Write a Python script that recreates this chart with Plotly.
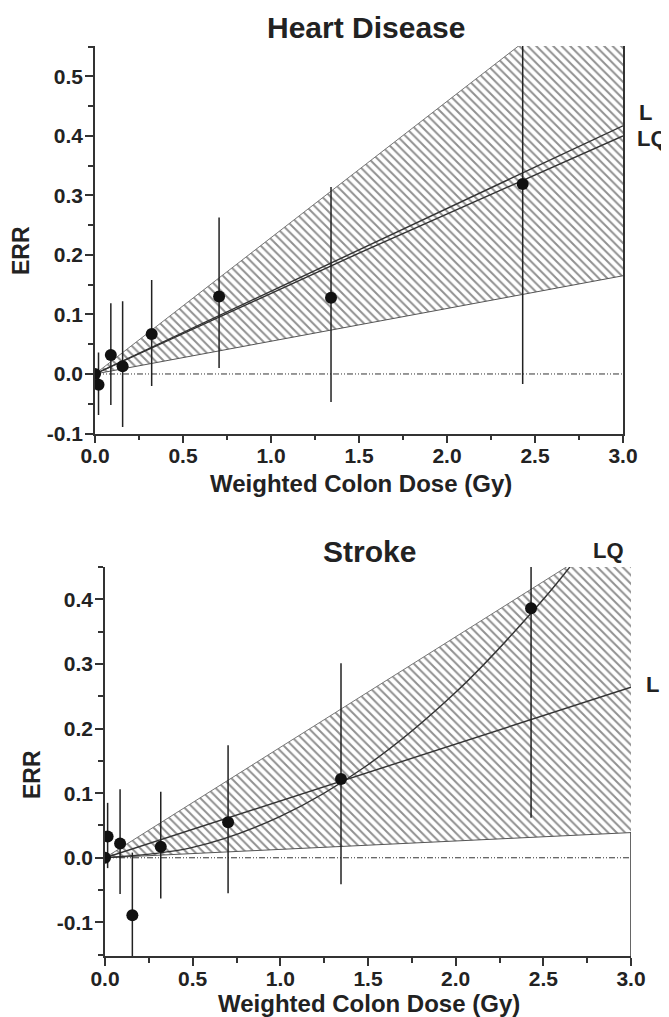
import plotly.graph_objects as go

W, H = 669, 1017
OFF = 8  # page body margin of the browser

# ---------------- data: Heart Disease ----------------
heart_dose = [0.0, 0.02, 0.09, 0.157, 0.322, 0.705, 1.341, 2.43]
heart_err = [0.0, -0.018, 0.032, 0.013, 0.067, 0.130, 0.128, 0.319]
heart_hi = [0.0, 0.036, 0.119, 0.122, 0.158, 0.263, 0.314, 0.62]
heart_lo = [0.0, -0.069, -0.052, -0.089, -0.020, 0.010, -0.047, -0.017]

heart_band_x = [0.0, 3.0]
heart_band_upper = [0.0, 0.687]
heart_band_lower = [0.0, 0.165]

heart_L_x = [0.0, 3.0]
heart_L_y = [0.0, 0.417]
heart_LQ_x = [0.0, 1.5, 3.0]
heart_LQ_y = [0.0, 0.203, 0.400]

# ---------------- data: Stroke ----------------
stroke_dose = [0.0, 0.015, 0.086, 0.156, 0.318, 0.702, 1.346, 2.43]
stroke_err = [0.0, 0.033, 0.022, -0.089, 0.017, 0.055, 0.122, 0.386]
stroke_hi = [0.0, 0.085, 0.106, 0.008, 0.102, 0.174, 0.301, 0.50]
stroke_lo = [0.0, -0.016, -0.056, -0.20, -0.063, -0.055, -0.041, 0.062]

stroke_band_x = [0.0, 3.0]
stroke_band_upper = [0.0, 0.513]
stroke_band_lower = [0.0, 0.039]

stroke_L_x = [0.0, 3.0]
stroke_L_y = [0.0, 0.264]
stroke_LQ_x = [0.0, 0.5, 1.0, 1.5, 2.0, 2.5, 2.7]
stroke_LQ_y = [0.0, 0.016, 0.064, 0.144, 0.256, 0.400, 0.467]

# ticks
x_tickvals = [0.0, 0.5, 1.0, 1.5, 2.0, 2.5, 3.0]
x_ticktext = ["0.0", "0.5", "1.0", "1.5", "2.0", "2.5", "3.0"]
heart_y_tickvals = [-0.1, 0.0, 0.1, 0.2, 0.3, 0.4, 0.5]
heart_y_ticktext = ["-0.1", "0.0", "0.1", "0.2", "0.3", "0.4", "0.5"]
stroke_y_tickvals = [-0.1, 0.0, 0.1, 0.2, 0.3, 0.4]
stroke_y_ticktext = ["-0.1", "0.0", "0.1", "0.2", "0.3", "0.4"]

FONT = "Arial, Liberation Sans, sans-serif"
TXT = "#222222"
AX = "#333333"

fig = go.Figure()


def add_panel(xa, ya, dose, err, hi, lo, bx, bup, blo, Lx, Ly, LQx, LQy, LQshape):
    # CI band (hatched)
    fig.add_trace(go.Scatter(x=bx, y=blo, mode="lines", line=dict(color="#555555", width=1),
                             xaxis=xa, yaxis=ya, showlegend=False, hoverinfo="skip"))
    fig.add_trace(go.Scatter(x=bx, y=bup, mode="lines", line=dict(color="#777777", width=1),
                             fill="tonexty", fillcolor="rgba(0,0,0,0)",
                             fillpattern=dict(shape="\\", fgcolor="#222222", bgcolor="rgba(255,255,255,0)",
                                              size=6, solidity=0.33),
                             xaxis=xa, yaxis=ya, showlegend=False, hoverinfo="skip"))
    # zero reference line
    fig.add_trace(go.Scatter(x=[bx[0], bx[-1]], y=[0, 0], mode="lines",
                             line=dict(color="#333333", width=1, dash="6px,2px,1px,2px,1px,2px"),
                             xaxis=xa, yaxis=ya, showlegend=False, hoverinfo="skip"))
    # fitted lines
    fig.add_trace(go.Scatter(x=Lx, y=Ly, mode="lines", line=dict(color="#333333", width=1.4),
                             xaxis=xa, yaxis=ya, showlegend=False, hoverinfo="skip"))
    fig.add_trace(go.Scatter(x=LQx, y=LQy, mode="lines", line=dict(color="#333333", width=1.4, shape=LQshape),
                             xaxis=xa, yaxis=ya, showlegend=False, hoverinfo="skip"))
    # data points with CI
    plus = [h - e for h, e in zip(hi, err)]
    minus = [e - l for e, l in zip(err, lo)]
    fig.add_trace(go.Scatter(x=dose, y=err, mode="markers",
                             marker=dict(color="#111111", size=12),
                             error_y=dict(type="data", array=plus, arrayminus=minus, symmetric=False,
                                          color="#222222", thickness=1.5, width=0),
                             xaxis=xa, yaxis=ya, showlegend=False))


add_panel("x", "y", heart_dose, heart_err, heart_hi, heart_lo,
          heart_band_x, heart_band_upper, heart_band_lower,
          heart_L_x, heart_L_y, heart_LQ_x, heart_LQ_y, "linear")
add_panel("x2", "y2", stroke_dose, stroke_err, stroke_hi, stroke_lo,
          stroke_band_x, stroke_band_upper, stroke_band_lower,
          stroke_L_x, stroke_L_y, stroke_LQ_x, stroke_LQ_y, "spline")

# right-hand frame piece of the stroke panel (below the band only)
fig.add_trace(go.Scatter(x=[stroke_band_x[-1], stroke_band_x[-1]], y=[-0.152, stroke_band_lower[-1]],
                         mode="lines", line=dict(color=AX, width=1.5), cliponaxis=False,
                         xaxis="x2", yaxis="y2", showlegend=False, hoverinfo="skip"))

tickfont = dict(family=FONT, size=21, color=TXT, weight="bold")


def xax(domain, anchor):
    return dict(domain=domain, anchor=anchor, range=[0, 3.0], tickvals=x_tickvals, ticktext=x_ticktext,
                automargin=False,
                showgrid=False, zeroline=False, showline=True, linecolor=AX, linewidth=1.5,
                ticks="outside", ticklen=8, tickwidth=1.5, tickcolor=AX, tickfont=tickfont,
                ticklabelstandoff=-5,
                minor=dict(ticks="outside", ticklen=5, tickwidth=1.5, tickcolor=AX, dtick=0.25,
                           tick0=0, showgrid=False))


def yax(domain, anchor, rng, tv, tt, mirror):
    return dict(domain=domain, anchor=anchor, range=rng, tickvals=tv, ticktext=tt,
                automargin=False,
                showgrid=False, zeroline=False, showline=True, linecolor=AX, linewidth=1.5,
                mirror=mirror,
                ticks="outside", ticklen=8, tickwidth=1.5, tickcolor=AX, tickfont=tickfont,
                ticklabelstandoff=-2,
                minor=dict(ticks="outside", ticklen=5, tickwidth=1.5, tickcolor=AX, dtick=0.05,
                           tick0=0, showgrid=False))


def px(x):
    return (x - OFF) / W


def py(y):
    return 1 - (y - OFF) / H


fig.update_layout(
    width=W, height=H,
    margin=dict(l=0, r=0, t=0, b=0),
    paper_bgcolor="white", plot_bgcolor="white",
    xaxis=xax([px(95), px(623)], "y"),
    yaxis=yax([py(433.5), py(46)], "x", [-0.1, 0.551], heart_y_tickvals, heart_y_ticktext, True),
    xaxis2=xax([px(105), px(631)], "y2"),
    yaxis2=yax([py(956), py(567)], "x2", [-0.152, 0.45], stroke_y_tickvals, stroke_y_ticktext, False),
)

ann = []


def text(x, y, s, size, xanchor="center", angle=0):
    ann.append(dict(x=px(x), y=py(y), xref="paper", yref="paper", text=s, showarrow=False,
                    xanchor=xanchor, yanchor="middle", textangle=angle,
                    font=dict(family=FONT, size=size, color=TXT, weight="bold")))


text(366, 27, "Heart Disease", 30)
text(361, 483, "Weighted Colon Dose (Gy)", 24)
text(21, 250, "ERR", 23, angle=-90)
text(637, 112, "L", 22, xanchor="left")
text(635, 139, "LQ", 22, xanchor="left")

text(369, 551, "Stroke", 30)
text(369, 1003, "Weighted Colon Dose (Gy)", 24)
text(32, 775, "ERR", 23, angle=-90)
text(608, 550, "LQ", 22)
text(644, 684, "L", 22, xanchor="left")

fig.update_layout(annotations=ann)

fig.write_html("out.html")
